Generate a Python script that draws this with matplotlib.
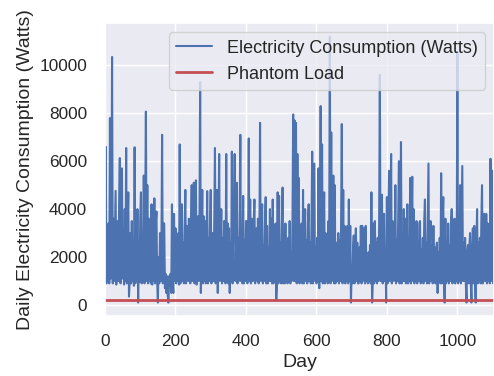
import numpy as np
import matplotlib
matplotlib.use("Agg")
import matplotlib.pyplot as plt
import seaborn as sns

# daily consumption, one value every 2 days (Watts)
step = 2
consumption = [
    1200, 6600, 900, 3100, 1000, 3400, 900, 7800, 1100, 2200, 10350, 900, 3600, 1000, 2800, 4760, 850, 3000, 3500, 1000, 4200, 6130, 900, 3800, 5700, 1100, 3200, 850, 4000, 1000,
    6550, 900, 3200, 4700, 350, 1000, 3000, 900, 3500, 1000, 2300, 800, 6580, 900, 3400, 1000, 4000, 100, 2600, 950, 3600, 4700, 900, 3000, 1000, 5400, 900, 3800, 8070, 1000,
    5000, 900, 3600, 1000, 2200, 900, 4200, 850, 2800, 1000, 4450, 900, 3400, 3900, 1000, 100, 2000, 900, 3000, 1000, 2200, 7100, 900, 3400, 3400, 700, 1300, 500, 1200, 400,
    100, 1200, 800, 1300, 500, 4200, 900, 500, 3800, 1000, 3200, 900, 2500, 1000, 3000, 850, 6700, 900, 3400, 4200, 1000, 2600, 900, 3300, 4800, 900, 2700, 3300, 1000, 3600,
    2400, 900, 3200, 5000, 1000, 2600, 5100, 900, 3400, 5200, 850, 2500, 3700, 1000, 3300, 9300, 500, 2600, 4800, 900, 3700, 1000, 3500, 900, 2200, 4750, 900, 2800, 1000, 3400,
    4800, 900, 2600, 3000, 1000, 3400, 6550, 900, 2200, 4800, 500, 3600, 6300, 1000, 2300, 4000, 900, 2800, 1000, 3500, 3500, 900, 6300, 1000, 3400, 900, 3200, 500, 2600, 1000,
    6400, 900, 3600, 3000, 6300, 1000, 2400, 5100, 900, 2800, 1000, 3300, 7100, 1000, 3200, 900, 4550, 900, 2700, 1000, 3500, 3500, 900, 2400, 6950, 1000, 4400, 900, 3600, 1000,
    1000, 3400, 4400, 900, 2500, 3200, 1000, 3600, 900, 2300, 7600, 1000, 3400, 4200, 900, 2500, 1000, 3400, 4500, 900, 3300, 900, 2400, 1000, 4000, 1000, 3600, 900, 4400, 900,
    3000, 1000, 3400, 200, 1000, 4700, 900, 4550, 1000, 2600, 900, 3300, 4900, 900, 2800, 900, 3400, 1000, 2600, 900, 2800, 1000, 3500, 900, 2200, 1000, 3400, 7950, 1000, 7700,
    1000, 7600, 900, 6300, 1000, 5300, 900, 2800, 1000, 3400, 900, 4800, 900, 2500, 4000, 1000, 2700, 900, 3400, 4200, 1000, 2600, 900, 3300, 6400, 900, 3500, 5900, 1000, 2400,
    900, 2800, 1000, 5700, 700, 3400, 8300, 1000, 6700, 900, 3400, 4700, 900, 3000, 1000, 2800, 900, 3500, 1000, 11200, 900, 7200, 1000, 3600, 5400, 900, 5000, 900, 2600, 1000,
    1000, 3000, 900, 2700, 1000, 3400, 7550, 900, 4800, 1000, 3300, 900, 2600, 1000, 3300, 900, 4400, 1000, 3300, 100, 1500, 900, 2400, 2900, 900, 2300, 3200, 1000, 2600, 900,
    900, 2400, 1000, 3300, 900, 3300, 1000, 2400, 3200, 900, 3300, 1000, 1600, 900, 2200, 1000, 2500, 900, 4700, 100, 1000, 3400, 900, 3500, 1000, 2600, 900, 2800, 1000, 3400,
    9600, 1000, 3400, 4600, 900, 2600, 3800, 1000, 2200, 100, 4500, 900, 3400, 5600, 1000, 2400, 6300, 900, 3500, 2800, 1000, 2300, 5000, 900, 2700, 1000, 3400, 6000, 900, 2500,
    6800, 900, 2700, 1000, 4000, 1000, 3600, 900, 2300, 4200, 900, 2800, 1000, 5300, 900, 3400, 5350, 1000, 4000, 900, 2500, 1000, 3500, 900, 2600, 1000, 3400, 3500, 900, 2300,
    1000, 2800, 900, 3500, 4400, 1000, 2600, 900, 3300, 5900, 900, 2400, 3500, 1000, 2500, 900, 3300, 1000, 2400, 900, 2300, 2600, 500, 2200, 1000, 2800, 900, 5500, 900, 3400,
    4500, 1000, 100, 3600, 900, 2600, 1000, 3400, 900, 2500, 1000, 3300, 4000, 900, 2800, 1000, 3600, 900, 2400, 1000, 10560, 900, 3500, 1000, 5000, 900, 3400, 5800, 1000, 2600,
    1000, 2800, 900, 100, 2200, 2500, 900, 2400, 3000, 1000, 100, 2300, 3200, 900, 3300, 1000, 100, 2400, 4000, 900, 2600, 1000, 2800, 900, 3400, 5000, 900, 2500, 3800, 1000,
    1000, 3800, 900, 3400, 1000, 2700, 900, 6100, 1000, 3400, 5600, 900, 2600,
]
phantom_load = 200

days = np.arange(len(consumption)) * step

sns.set_theme()
plt.rcParams['font.family'] = ['Liberation Sans', 'DejaVu Sans']

fig, ax = plt.subplots(figsize=(4.94, 3.76), dpi=100)
fig.subplots_adjust(left=0.2126, right=1.0, bottom=0.16, top=0.938)

ax.plot(days, consumption, color='#4C72B0', lw=1.5, label='Electricity Consumption (Watts)')
ax.plot(days, [phantom_load] * len(days), color='#C44E52', lw=2, label='Phantom Load')

ax.set_xlim(0, days[-1])
ax.set_xlabel('Day', fontsize=14)
ax.set_ylabel('Daily Electricity Consumption (Watts)', fontsize=14)
ax.tick_params(labelsize=12.4, pad=7)
ax.legend(loc='upper right', fontsize=13)

fig.savefig('out.png')
